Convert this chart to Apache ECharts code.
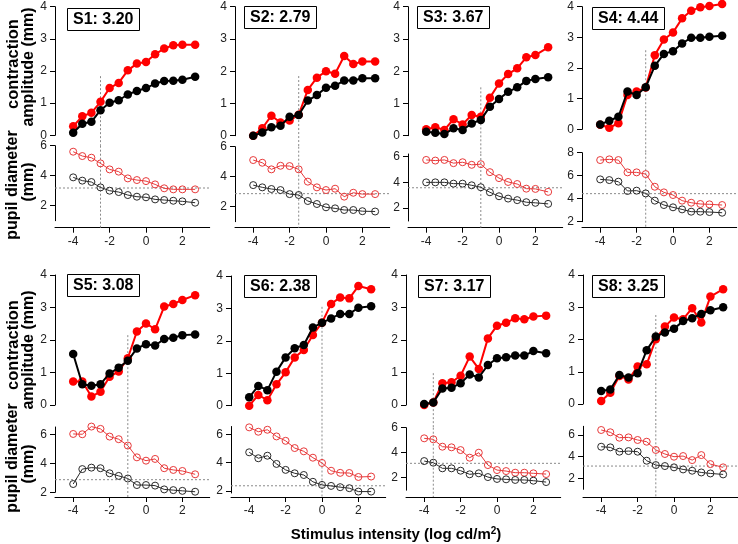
<!DOCTYPE html>
<html><head><meta charset="utf-8">
<script src="https://cdn.jsdelivr.net/npm/echarts@6/dist/echarts.min.js"></script>
<style>html,body{margin:0;padding:0;background:#fff}#c{width:738px;height:544px}</style>
</head><body><div id="c"></div>
<script>
// ---------- DATA ----------
const xValues = [-4, -3.5, -3, -2.5, -2, -1.5, -1, -0.5, 0, 0.5, 1, 1.5, 2, 2.7];

const s1AmpRed   = [0.28,0.59,0.70,1.04,1.47,1.63,2.02,2.23,2.28,2.52,2.70,2.80,2.82,2.82];
const s1AmpBlack = [0.08,0.36,0.42,0.78,1.01,1.09,1.27,1.38,1.47,1.61,1.69,1.70,1.73,1.82];
const s1PupRed   = [5.60,5.31,5.20,4.82,4.42,4.27,3.82,3.71,3.64,3.42,3.16,3.09,3.09,3.09];
const s1PupBlack = [3.89,3.67,3.58,3.22,3.00,2.91,2.71,2.60,2.56,2.42,2.38,2.33,2.29,2.20];

const s2AmpRed   = [0.00,0.23,0.62,0.41,0.47,0.65,1.42,1.80,2.00,1.92,2.47,2.22,2.30,2.30];
const s2AmpBlack = [0.00,0.10,0.26,0.31,0.59,0.64,1.09,1.26,1.49,1.55,1.71,1.71,1.78,1.78];
const s2PupRed   = [5.11,4.93,4.49,4.73,4.71,4.49,3.67,3.29,3.11,3.20,2.67,2.93,2.84,2.84];
const s2PupBlack = [3.44,3.29,3.18,3.11,2.84,2.78,2.38,2.18,1.96,1.89,1.78,1.78,1.70,1.68];

const s3AmpRed   = [0.20,0.26,0.18,0.51,0.35,0.64,0.59,1.18,1.62,1.91,2.09,2.43,2.50,2.74];
const s3AmpBlack = [0.12,0.09,0.05,0.23,0.18,0.38,0.49,0.90,1.14,1.36,1.50,1.70,1.76,1.81];
const s3PupRed   = [5.74,5.69,5.74,5.49,5.56,5.36,5.41,4.79,4.33,4.03,3.87,3.51,3.49,3.26];
const s3PupBlack = [4.00,4.00,4.00,3.90,3.90,3.77,3.62,3.23,2.92,2.74,2.62,2.46,2.41,2.33];

const s4AmpRed   = [0.15,0.05,0.20,1.12,1.23,1.36,2.42,2.93,3.16,3.62,3.87,3.98,4.02,4.09];
const s4AmpBlack = [0.16,0.28,0.41,1.23,1.12,1.37,2.07,2.46,2.55,2.80,2.99,2.99,3.02,3.05];
const s4PupRed   = [7.36,7.42,7.36,6.29,6.29,6.14,5.04,4.55,4.32,3.83,3.65,3.54,3.51,3.45];
const s4PupBlack = [5.68,5.62,5.48,4.67,4.70,4.46,3.83,3.45,3.25,3.07,2.87,2.87,2.84,2.78];

const s5AmpRed   = [0.72,0.72,0.26,0.41,0.87,1.03,1.44,2.26,2.51,2.33,3.03,3.11,3.23,3.38];
const s5AmpBlack = [1.57,0.64,0.59,0.64,0.97,1.15,1.36,1.74,1.87,1.83,2.03,2.07,2.15,2.17];
const s5PupRed   = [6.02,6.00,6.53,6.37,5.84,5.66,5.22,4.41,4.18,4.30,3.66,3.54,3.47,3.24];
const s5PupBlack = [2.57,3.60,3.70,3.66,3.31,3.13,2.95,2.50,2.50,2.46,2.20,2.15,2.10,2.04];

const s6AmpRed   = [0.00,0.33,0.17,0.66,1.03,1.49,1.72,2.18,2.56,3.14,3.34,3.31,3.69,3.59];
const s6AmpBlack = [0.26,0.61,0.48,1.05,1.49,1.77,1.87,2.41,2.56,2.69,2.83,2.83,3.02,3.07];
const s6PupRed   = [6.49,6.18,6.32,5.85,5.54,5.03,4.80,4.35,3.98,3.43,3.28,3.27,2.99,3.02];
const s6PupBlack = [4.73,4.31,4.49,3.91,3.49,3.25,3.13,2.65,2.43,2.36,2.27,2.20,1.96,1.96];

const s7AmpRed   = [0.00,0.08,0.67,0.70,0.90,1.49,1.11,2.05,2.44,2.53,2.67,2.64,2.72,2.75];
const s7AmpBlack = [0.03,0.08,0.51,0.53,0.67,0.94,0.85,1.23,1.44,1.47,1.52,1.52,1.66,1.59];
const s7PupRed   = [5.15,5.07,4.48,4.43,4.21,3.60,4.00,3.01,2.61,2.53,2.40,2.40,2.35,2.29];
const s7PupBlack = [3.33,3.20,2.75,2.75,2.56,2.27,2.35,2.05,1.90,1.87,1.82,1.82,1.76,1.65];

const s8AmpRed   = [0.09,0.35,0.87,0.76,1.16,1.23,2.01,2.40,2.68,2.63,2.97,2.53,3.33,3.56];
const s8AmpBlack = [0.40,0.45,0.90,0.82,0.95,1.67,2.09,2.22,2.33,2.57,2.66,2.79,2.91,3.00];
const s8PupRed   = [6.46,6.25,5.75,5.78,5.54,5.38,4.62,4.25,4.00,4.06,3.69,4.15,3.32,3.02];
const s8PupBlack = [4.92,4.86,4.46,4.52,4.46,3.63,3.23,3.14,3.02,2.83,2.71,2.55,2.46,2.37];

const subjectLabels  = ['S1: 3.20','S2: 2.79','S3: 3.67','S4: 4.44','S5: 3.08','S6: 2.38','S7: 3.17','S8: 3.25'];
const thresholdX     = [-2.5, -1.5, -1, -1.5, -1, 0, -3.5, -1];
const thresholdPupil = [3.18, 2.87, 3.58, 4.44, 2.87, 2.37, 3.15, 3.14];
const vlineTopAmp    = [1.84, 1.85, 1.50, 2.58, 2.15, 3.05, 0.98, 2.76];

const xTickValues     = [-4, -2, 0, 2];
const ampTickValues   = [0, 1, 2, 3, 4];
const pupilTickValues = [[2,4,6],[2,4,6],[2,4,6],[2,4,6,8],[2,4,6],[2,4,6],[2,4,6],[2,4,6]];
const pupilMin = [1, 1, 1, 2, 2, 1.86, 1, 1];
const pupilMax = [6, 6, 6.2, 8, 6.5, 6.55, 6, 6.8];

const ampSets = [
  [s1AmpRed,s1AmpBlack],[s2AmpRed,s2AmpBlack],[s3AmpRed,s3AmpBlack],[s4AmpRed,s4AmpBlack],
  [s5AmpRed,s5AmpBlack],[s6AmpRed,s6AmpBlack],[s7AmpRed,s7AmpBlack],[s8AmpRed,s8AmpBlack]];
const pupSets = [
  [s1PupRed,s1PupBlack],[s2PupRed,s2PupBlack],[s3PupRed,s3PupBlack],[s4PupRed,s4PupBlack],
  [s5PupRed,s5PupBlack],[s6PupRed,s6PupBlack],[s7PupRed,s7PupBlack],[s8PupRed,s8PupBlack]];

// ---------- LAYOUT (pixels) ----------
const layout = [
  {left:55,  ampTop:6.7, ampBottom:135.3, pupTop:145.7, pupBottom:220.7, axisY:227.7, box:[67,8]},
  {left:235, ampTop:6.7, ampBottom:135.7, pupTop:146.7, pupBottom:221.7, axisY:227.7, box:[244,6]},
  {left:408, ampTop:6.7, ampBottom:135.7, pupTop:154,   pupBottom:221,   axisY:227.7, box:[417,6]},
  {left:582, ampTop:6.7, ampBottom:129.3, pupTop:152.7, pupBottom:221.7, axisY:227.7, box:[592,7]},
  {left:55,  ampTop:275, ampBottom:405,   pupTop:427,   pupBottom:492.3, axisY:497,   box:[67,274]},
  {left:231, ampTop:276, ampBottom:405.7, pupTop:426.5, pupBottom:493,   axisY:497,   box:[244,275]},
  {left:406, ampTop:275, ampBottom:405,   pupTop:427.7, pupBottom:490.2, axisY:497,   box:[418,275]},
  {left:583, ampTop:275, ampBottom:404,   pupTop:426.3, pupBottom:489.3, axisY:497,   box:[592,275]}
];
const XMIN = -5, XMAX = 3.5, PANEL_W = 154.7;

const FONT = 'Liberation Sans, Arial, sans-serif';
const RED = '#ff0000', BLACK = '#000000', PRED = '#e8393a', PBLACK = '#2a2a2a', REF = '#8a8a8a';

const grids = [], xAxes = [], yAxes = [], series = [], titles = [];
const zip = (ys) => xValues.map((x, i) => [x, ys[i]]);

layout.forEach((L, i) => {
  const ag = i * 2, pg = i * 2 + 1;
  grids.push({left: L.left, top: L.ampTop, width: PANEL_W, height: L.ampBottom - L.ampTop, outerBoundsMode: 'none'});
  grids.push({left: L.left, top: L.pupTop, width: PANEL_W, height: L.pupBottom - L.pupTop, outerBoundsMode: 'none'});
  xAxes.push({type:'value', gridIndex: ag, min: XMIN, max: XMAX, show: false});
  xAxes.push({type:'value', gridIndex: pg, min: XMIN, max: XMAX, position:'bottom',
    offset: L.axisY - L.pupBottom,
    axisLine:{show:true, onZero:false, lineStyle:{color:'#000', width:1}},
    axisTick:{show:true, customValues: xTickValues, length:5, lineStyle:{color:'#000'}},
    axisLabel:{customValues: xTickValues, margin:8, fontSize:12, color:'#222', fontFamily: FONT},
    splitLine:{show:false}});
  yAxes.push({type:'value', gridIndex: ag, min: 0, max: 4,
    axisLine:{show:true, onZero:false, lineStyle:{color:'#000', width:1}},
    axisTick:{show:true, customValues: ampTickValues, length:5, lineStyle:{color:'#000'}},
    axisLabel:{customValues: ampTickValues, margin:8, fontSize:12, color:'#222', fontFamily: FONT},
    splitLine:{show:false}});
  yAxes.push({type:'value', gridIndex: pg, min: pupilMin[i], max: pupilMax[i],
    axisLine:{show:true, onZero:false, lineStyle:{color:'#000', width:1}},
    axisTick:{show:true, customValues: pupilTickValues[i], length:5, lineStyle:{color:'#000'}},
    axisLabel:{customValues: pupilTickValues[i], margin:8, fontSize:12, color:'#222', fontFamily: FONT},
    splitLine:{show:false}});

  // reference lines
  const ampPx = (L.ampBottom - L.ampTop) / 4;
  const pupPx = (L.pupBottom - L.pupTop) / (pupilMax[i] - pupilMin[i]);
  const gapVal = (L.pupTop - L.ampBottom) / ampPx;
  const belowVal = (L.axisY - L.pupBottom) / pupPx;
  const refStyle = {color: REF, width: 1, type: [2, 2]};
  series.push({type:'line', xAxisIndex: ag, yAxisIndex: ag, silent:true, clip:false, symbol:'none', z:1,
    lineStyle: refStyle, data: [[thresholdX[i], vlineTopAmp[i]], [thresholdX[i], -gapVal]]});
  series.push({type:'line', xAxisIndex: pg, yAxisIndex: pg, silent:true, clip:false, symbol:'none', z:1,
    lineStyle: refStyle, data: [[thresholdX[i], pupilMax[i]], [thresholdX[i], pupilMin[i] - belowVal]]});
  series.push({type:'line', xAxisIndex: pg, yAxisIndex: pg, silent:true, clip:false, symbol:'none', z:1,
    lineStyle: refStyle, data: [[XMIN, thresholdPupil[i]], [XMAX, thresholdPupil[i]]]});

  // amplitude series
  series.push({type:'line', xAxisIndex: ag, yAxisIndex: ag, clip:false, symbol:'circle', symbolSize:8.5, z:3,
    itemStyle:{color: RED}, lineStyle:{color: RED, width:2}, data: zip(ampSets[i][0])});
  series.push({type:'line', xAxisIndex: ag, yAxisIndex: ag, clip:false, symbol:'circle', symbolSize:8.5, z:4,
    itemStyle:{color: BLACK}, lineStyle:{color: BLACK, width:2}, data: zip(ampSets[i][1])});
  // pupil series (open circles)
  series.push({type:'line', xAxisIndex: pg, yAxisIndex: pg, clip:false, symbol:'circle', symbolSize:7, z:3,
    itemStyle:{color:'rgba(0,0,0,0)', borderColor: PRED, borderWidth:1}, lineStyle:{color: PRED, width:1},
    data: zip(pupSets[i][0])});
  series.push({type:'line', xAxisIndex: pg, yAxisIndex: pg, clip:false, symbol:'circle', symbolSize:7, z:4,
    itemStyle:{color:'rgba(0,0,0,0)', borderColor: PBLACK, borderWidth:1}, lineStyle:{color: PBLACK, width:1},
    data: zip(pupSets[i][1])});

  titles.push({text: subjectLabels[i], left: L.box[0], top: L.box[1], padding:[4,6,3,6],
    borderColor:'#000', borderWidth:1,
    textStyle:{fontSize:16, fontWeight:'bold', color:'#000', fontFamily: FONT}});
});

const vText = (txt, x, y, size) => ({type:'text', x, y, rotation: Math.PI/2,
  style:{text: txt, fontSize: size, fontWeight:'bold', fill:'#000', fontFamily: FONT, align:'center', verticalAlign:'middle'}});

const option = {
  animation: false,
  backgroundColor: '#fff',
  title: titles,
  grid: grids,
  xAxis: xAxes,
  yAxis: yAxes,
  series: series,
  graphic: [
    vText('contraction', 13, 64, 16.5), vText('amplitude (mm)', 29, 67, 16),
    vText('pupil diameter', 13, 185, 16), vText('(mm)', 29, 182, 16),
    vText('contraction', 13, 345, 16.5), vText('amplitude (mm)', 29, 350, 16),
    vText('pupil diameter', 13, 458, 16), vText('(mm)', 29, 464, 16),
    {type:'text', x: 396, y: 535, style:{
      text: '{a|Stimulus intensity (log cd/m}{s|2}{a|)}',
      rich: {a:{fontSize:15, fontWeight:'bold', fill:'#000', fontFamily: FONT},
             s:{fontSize:10, fontWeight:'bold', fill:'#000', fontFamily: FONT, verticalAlign:'top', padding:[0,0,8,0]}},
      align:'center', verticalAlign:'middle'}}
  ]
};

const chart = echarts.init(document.getElementById('c'), null, {renderer:'canvas'});
chart.setOption(option);
</script>
</body></html>
